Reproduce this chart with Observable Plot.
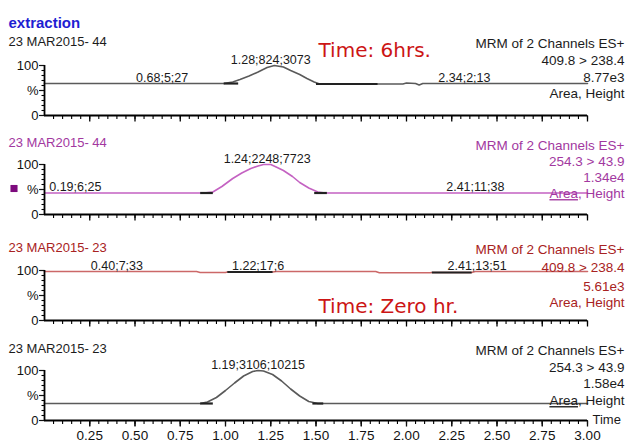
<!DOCTYPE html>
<html><head><meta charset="utf-8">
<script src="https://cdn.jsdelivr.net/npm/d3@7"></script>
<script src="https://cdn.jsdelivr.net/npm/@observablehq/plot@0.6"></script>
<style>
body{margin:0;background:#fff;}
#chart{position:relative;width:627px;height:445px;overflow:hidden;background:#fff;}
#chart svg{position:absolute;left:0;overflow:visible;}
</style></head><body><div id="chart"></div>
<script>
// ---------- data ----------
const title = "extraction";
const panelHeaders = ["23 MAR2015- 44", "23 MAR2015- 44", "23 MAR2015- 23", "23 MAR2015- 23"];
const panelInfo = [
  ["MRM of 2 Channels ES+", "409.8 > 238.4", "8.77e3", "Area, Height"],
  ["MRM of 2 Channels ES+", "254.3 > 43.9", "1.34e4", "Area, Height"],
  ["MRM of 2 Channels ES+", "409.8 > 238.4", "5.61e3", "Area, Height"],
  ["MRM of 2 Channels ES+", "254.3 > 43.9", "1.58e4", "Area, Height"]
];
const notes = ["Time: 6hrs.", null, "Time: Zero hr.", null];

// traces (time, % intensity)
const p1Time = [0, 0.50, 0.99, 1.04, 1.08, 1.13, 1.18, 1.23, 1.27, 1.32, 1.36, 1.41, 1.45, 1.49, 1.52, 1.85, 1.98, 2.00, 2.05, 2.07, 2.09, 2.12, 2.50, 3.00];
const p1Pct  = [64, 64, 64, 67, 72, 79, 87, 96, 100, 97, 90, 82, 74, 67, 63, 63, 63, 65, 64, 61, 64, 64, 64, 64];
const p2Time = [0, 0.50, 0.88, 0.93, 0.98, 1.04, 1.09, 1.14, 1.18, 1.21, 1.25, 1.28, 1.32, 1.37, 1.41, 1.46, 1.51, 1.55, 2.50, 3.00];
const p2Pct  = [43, 43, 43, 45, 56, 72, 83, 92, 97, 100, 100, 95, 88, 76, 64, 53, 45, 43, 43, 43];
const p3Time = [0, 0.84, 0.86, 1.00, 1.01, 1.26, 1.28, 1.83, 1.85, 2.13, 2.14, 2.36, 2.38, 3.00];
const p3Pct  = [98, 98, 96, 96, 97, 97, 98, 98, 95.5, 95.5, 96, 96, 98, 98];
const p4Time = [0, 0.50, 0.86, 0.90, 0.95, 1.00, 1.05, 1.10, 1.15, 1.18, 1.21, 1.26, 1.31, 1.36, 1.41, 1.46, 1.51, 2.50, 3.00];
const p4Pct  = [34, 34, 34, 37, 46, 60, 75, 89, 98, 100, 99, 92, 79, 63, 49, 38, 34, 34, 34];
const traceTimes = [p1Time, p2Time, p3Time, p4Time];
const tracePcts = [p1Pct, p2Pct, p3Pct, p4Pct];

// integration baselines: panel, start, end, level
const intPanel = [0, 0, 1, 1, 2, 2, 3, 3];
const intStart = [0.99, 1.50, 0.86, 1.49, 1.01, 2.14, 0.86, 1.48];
const intEnd   = [1.07, 1.84, 0.93, 1.56, 1.26, 2.36, 0.93, 1.54];
const intLevel = [64, 63, 43, 43, 97, 96, 34, 34];

// peak labels: panel, text, retention time, level
const peakPanel = [0, 0, 0, 1, 1, 1, 2, 2, 2, 3];
const peakText  = ["0.68;5;27", "1.28;824;3073", "2.34;2;13", "0.19;6;25", "1.24;2248;7723", "2.41;11;38", "0.40;7;33", "1.22;17;6", "2.41;13;51", "1.19;3106;10215"];
const peakRT    = [0.65, 1.25, 2.32, 0.17, 1.23, 2.38, 0.40, 1.18, 2.39, 1.18];
const peakLevel = [64, 100, 64, 43, 100, 43, 98, 98, 98, 100];

// axes
const xDomain = [0, 3];
const yDomain = [0, 100];
const majorX = [0.25, 0.50, 0.75, 1.00, 1.25, 1.50, 1.75, 2.00, 2.25, 2.50, 2.75, 3.00];
const xTickLabels = ["0.25", "0.50", "0.75", "1.00", "1.25", "1.50", "1.75", "2.00", "2.25", "2.50", "2.75", "3.00"];
const minorX = d3.range(1, 61).map(k => k * 0.05);
const majorY = [0, 50, 100];
const yTickLabels = ["0", "%", "100"];
const minorY = [10, 20, 30, 40, 60, 70, 80, 90];

// ---------- styles & layout ----------
const textColors = ["#1c1c1c", "#a2389f", "#a82222", "#1c1c1c"];
const lineColors = ["#5a5a5a", "#c462c2", "#cc6868", "#5a5a5a"];
const layout = [
  {top: 0,   mt: 65, mb: 7,  headerDy: -29, infoDy: [-27, -10, 7, 23], noteDy: -23},
  {top: 122, mt: 42, mb: 7,  headerDy: -27, infoDy: [-24, -8, 8, 24]},
  {top: 221, mt: 49, mb: 5,  headerDy: -28, infoDy: [-26, -8, 11, 27], noteDy: 28},
  {top: 325, mt: 45, mb: 25, headerDy: -27, infoDy: [-25, -8, 8, 25]}
];
const FONT = "'Liberation Sans', Arial, sans-serif";
const FRAME_H = 50;
// tick lengths expressed in scale units (frame: 50px for 100 %, 181px per minute)
const pxY = 100 / FRAME_H, pxX = 3 / 543;

function panel(i) {
  const L = layout[i];
  const trace = traceTimes[i].map((t, k) => ({t, v: tracePcts[i][k]}));
  const segs = intPanel.map((p, k) => ({p, x1: intStart[k], x2: intEnd[k], y: intLevel[k]})).filter(d => d.p === i);
  const peaks = peakPanel.map((p, k) => ({p, label: peakText[k], rt: peakRT[k], level: peakLevel[k]})).filter(d => d.p === i);
  const marks = [
    // x ticks hanging below the axis
    Plot.link(minorX, {x1: d => d, x2: d => d, y1: yDomain[0], y2: yDomain[0] - 3.5 * pxY, stroke: "#000", strokeWidth: 1.1}),
    Plot.link(majorX, {x1: d => d, x2: d => d, y1: yDomain[0], y2: yDomain[0] - 6 * pxY, stroke: "#000", strokeWidth: 1.3}),
    // y ticks left of the axis
    Plot.link(minorY, {y1: d => d, y2: d => d, x1: xDomain[0], x2: xDomain[0] - 3 * pxX, stroke: "#000", strokeWidth: 1.1}),
    Plot.link(majorY, {y1: d => d, y2: d => d, x1: xDomain[0], x2: xDomain[0] - 5 * pxX, stroke: "#000", strokeWidth: 1.2}),
    Plot.axisY({ticks: majorY, tickSize: 5, tickPadding: 1, color: "#111", fontSize: 13,
      tickFormat: d => yTickLabels[majorY.indexOf(d)]}),
    Plot.line(trace, {x: "t", y: "v", stroke: lineColors[i], strokeWidth: 1.6}),
    Plot.link(segs, {x1: "x1", x2: "x2", y1: "y", y2: "y", stroke: "#222", strokeWidth: 2.2}),
    // axis lines
    Plot.ruleY([yDomain[0]], {stroke: "#000", strokeWidth: 1.8}),
    Plot.ruleX([xDomain[0]], {stroke: "#000", strokeWidth: 1.8}),
    Plot.text(peaks, {x: "rt", y: "level", text: "label", lineAnchor: "bottom", dy: -2, fontSize: 12.5, fill: "#1a1a1a"}),
    Plot.text([panelHeaders[i]], {frameAnchor: "top-left", dx: -36, dy: L.headerDy, textAnchor: "start", fill: textColors[i], fontSize: 13}),
    ...panelInfo[i].map((s, j) => Plot.text([s], {frameAnchor: "top-right", dx: 37, dy: L.infoDy[j], textAnchor: "end", fill: textColors[i], fontSize: 13.5}))
  ];
  if (i === 3) marks.push(Plot.axisX({ticks: majorX, tickSize: 6, tickPadding: 4, color: "#111", fontSize: 13.5,
      tickFormat: d => xTickLabels[majorX.indexOf(d)]}));
  else marks.push(Plot.axisX({ticks: [], tickSize: 0}));
  if (i === 0) marks.push(Plot.text([title], {frameAnchor: "top-left", dx: -36, dy: -48, textAnchor: "start", fill: "#1e1ed2", fontSize: 15, fontWeight: "bold"}));
  if (notes[i]) marks.push(Plot.text([notes[i]], {frameAnchor: "top-left", dx: 274, dy: L.noteDy, textAnchor: "start", fill: "#cc1515", fontSize: 20, fontFamily: "'DejaVu Sans', sans-serif"}));
  if (i === 1) marks.push(Plot.dot([0], {frameAnchor: "top-left", dx: -30.5, dy: 24, symbol: "square", r: 4, fill: "#7d0a7d", stroke: null}));
  if (i === 3) marks.push(Plot.text(["Time"], {frameAnchor: "bottom-right", dx: 5, dy: 3, textAnchor: "start", fill: "#1a1a1a", fontSize: 13}));
  const svg = Plot.plot({
    width: 627,
    height: L.mt + FRAME_H + L.mb,
    marginTop: L.mt, marginBottom: L.mb, marginLeft: 44, marginRight: 40,
    x: {domain: xDomain},
    y: {domain: yDomain},
    style: {fontFamily: FONT, fontSize: "13px", background: "transparent", color: "#000", overflow: "visible"},
    marks
  });
  svg.style.top = L.top + "px";
  if (i === 1 || i === 3) {
    svg.querySelectorAll("text").forEach(el => {
      if (el.textContent === "Area, Height") {
        el.textContent = "";
        const ns = "http://www.w3.org/2000/svg";
        const a = document.createElementNS(ns, "tspan");
        a.textContent = "Area";
        a.setAttribute("text-decoration", "underline");
        const b = document.createElementNS(ns, "tspan");
        b.textContent = ", Height";
        el.appendChild(a); el.appendChild(b);
      }
    });
  }
  return svg;
}

const chart = document.getElementById("chart");
for (let i = 0; i < 4; i++) chart.appendChild(panel(i));
</script>
</body></html>
